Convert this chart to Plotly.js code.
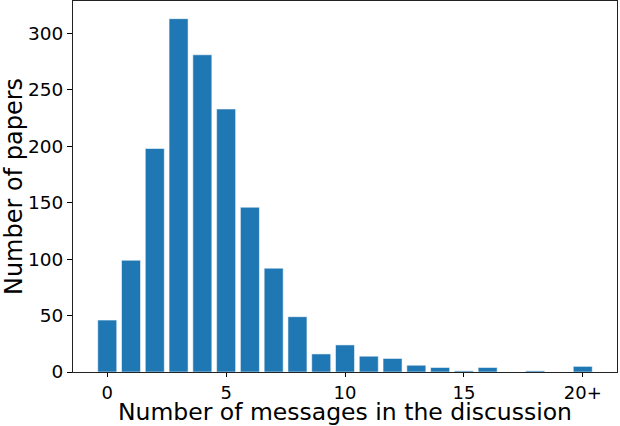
<!DOCTYPE html>
<html>
<head>
<meta charset="utf-8">
<script src="https://cdn.plot.ly/plotly-3.0.1.min.js"></script>
<style>
  html, body { margin: 0; padding: 0; background: #fff; }
  #chart { width: 620px; height: 426px; }
</style>
</head>
<body>
<div id="chart"></div>
<script>
"use strict";

// messages per discussion (20 = "20+") and how many papers had that count
let messageCounts = [0, 1, 2, 3, 4, 5, 6, 7, 8, 9, 10, 11, 12, 13, 14, 15, 16, 17, 18, 19, 20];
let paperCounts = [46, 99, 198, 313, 281, 233, 146, 92, 49, 16, 24, 14, 12, 6, 4, 1, 4, 0, 1, 0, 5];
let xTickValues = [0, 5, 10, 15, 20];
let xTickLabels = ["0", "5", "10", "15", "20+"];
let yTickValues = [0, 50, 100, 150, 200, 250, 300];
let xTitle = "Number of messages in the discussion";
let yTitle = "Number of papers";

let barData = [{
    x: messageCounts,
    y: paperCounts,
    type: "bar",
    marker: {
        color: "#1f77b4",
        line: {color: "rgba(255,255,255,0.55)", width: 1}
    },
    hoverinfo: "none"
}];

let maxCount = Math.max.apply(null, paperCounts);

let layout = {
    width: 620,
    height: 426,
    margin: {l: 73, r: 3, t: 1, b: 54},
    paper_bgcolor: "#fff",
    plot_bgcolor: "#fff",
    bargap: 0.2,
    showlegend: false,
    font: {family: "DejaVu Sans", color: "#000"},
    xaxis: {
        range: [-1.44, 21.44],
        tickvals: xTickValues,
        ticktext: xTickLabels,
        ticks: "outside",
        ticklen: 4,
        tickcolor: "#000",
        tickfont: {size: 18},
        showgrid: false,
        zeroline: false,
        showline: true,
        linecolor: "#222",
        linewidth: 1,
        mirror: true,
        title: {text: xTitle, font: {size: 23.5}}
    },
    yaxis: {
        range: [0, maxCount * 1.05],
        tickvals: yTickValues,
        ticks: "outside",
        ticklen: 5,
        tickcolor: "#000",
        tickfont: {size: 18.5},
        showgrid: false,
        zeroline: false,
        showline: true,
        linecolor: "#222",
        linewidth: 1,
        mirror: true,
        title: {text: yTitle, font: {size: 24}}
    }
};

Plotly.newPlot("chart", barData, layout, {displayModeBar: false, staticPlot: true});
</script>
</body>
</html>
